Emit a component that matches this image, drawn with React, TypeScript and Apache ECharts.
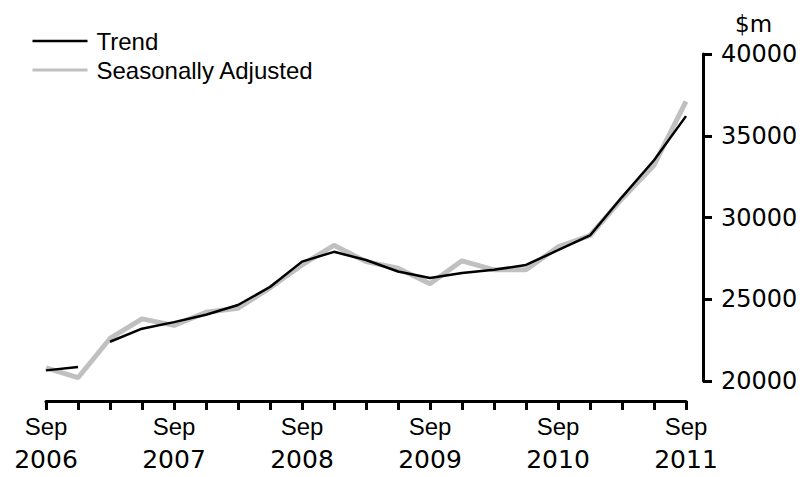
import React, { useEffect, useRef } from "react";
import * as echarts from "echarts";

const quarters = [
  "Sep 2006", "Dec 2006", "Mar 2007", "Jun 2007", "Sep 2007", "Dec 2007", "Mar 2008",
  "Jun 2008", "Sep 2008", "Dec 2008", "Mar 2009", "Jun 2009", "Sep 2009", "Dec 2009",
  "Mar 2010", "Jun 2010", "Sep 2010", "Dec 2010", "Mar 2011", "Jun 2011", "Sep 2011",
];

// Trend series is broken after Dec 2006 (trend break)
const trendPart1 = [20650, 20850, null, null, null, null, null, null, null, null, null, null, null, null, null, null, null, null, null, null, null];
const trendPart2 = [null, null, 22400, 23200, 23600, 24050, 24650, 25750, 27300, 27900, 27400, 26700, 26300, 26600, 26800, 27100, 28000, 28900, 31250, 33500, 36200];
const seasonallyAdjusted = [20800, 20200, 22600, 23800, 23400, 24200, 24450, 25700, 27100, 28300, 27300, 26900, 25950, 27350, 26800, 26800, 28200, 28900, 31150, 33200, 37100];

const yTicks = { min: 20000, max: 40000, interval: 5000 };
const unitLabel = "$m";

export default function App() {
  const ref = useRef<HTMLDivElement>(null);
  useEffect(() => {
    if (!ref.current) return;
    const chart = echarts.init(ref.current, null, { renderer: "svg" });
    chart.setOption({
      animation: false,
      backgroundColor: "#ffffff",
      grid: { left: 46, right: 123, top: 54, bottom: 96, containLabel: false },
      legend: {
        orient: "vertical",
        left: 31,
        top: 29,
        padding: 0,
        itemWidth: 55,
        itemHeight: 14,
        itemGap: 5,
        itemStyle: { opacity: 0, color: "rgba(0,0,0,0)", borderWidth: 0 },
        data: [
          { name: "Trend", lineStyle: { width: 2.5, color: "#000" } },
          { name: "Seasonally Adjusted", lineStyle: { width: 3, color: "#c0c0c0" } },
        ],
        textStyle: { fontFamily: "Liberation Sans", fontSize: 24, color: "#000", lineHeight: 24, padding: [0, 0, 0, 4] },
      },
      graphic: [
        {
          type: "text",
          left: 735,
          top: 12,
          style: { text: unitLabel, fontFamily: "DejaVu Sans", fontSize: 23, fill: "#000" },
        },
      ],
      xAxis: {
        type: "category",
        data: quarters,
        boundaryGap: false,
        offset: 20,
        axisLine: { lineStyle: { color: "#000", width: 3 } },
        axisTick: { interval: 0, length: 9, lineStyle: { color: "#000", width: 3 } },
        axisLabel: {
          interval: 3,
          margin: 9,
          color: "#000",
          formatter: (v: string) => {
            const [m, y] = v.split(" ");
            return `{m|${m}}\n{y|${y}}`;
          },
          rich: {
            m: { fontFamily: "Liberation Sans", fontSize: 24, lineHeight: 33, color: "#000" },
            y: { fontFamily: "DejaVu Sans", fontSize: 25, lineHeight: 33, color: "#000" },
          },
        },
        splitLine: { show: false },
      },
      yAxis: {
        type: "value",
        position: "right",
        offset: 17,
        min: yTicks.min,
        max: yTicks.max,
        interval: yTicks.interval,
        axisLine: { show: true, lineStyle: { color: "#000", width: 3 } },
        axisTick: { show: true, length: 9, lineStyle: { color: "#000", width: 3 } },
        axisLabel: {
          margin: 18,
          color: "#000",
          fontFamily: "DejaVu Sans",
          fontSize: 24,
          formatter: (v: number) => String(v),
        },
        splitLine: { show: false },
      },
      series: [
        {
          name: "Seasonally Adjusted",
          type: "line",
          data: seasonallyAdjusted,
          symbol: "none",
          lineStyle: { color: "#c0c0c0", width: 5 },
          itemStyle: { color: "#c0c0c0" },
        },
        {
          name: "Trend",
          type: "line",
          data: trendPart1,
          symbol: "none",
          connectNulls: false,
          lineStyle: { color: "#000", width: 2.5 },
          itemStyle: { color: "#000" },
        },
        {
          name: "Trend",
          type: "line",
          data: trendPart2,
          symbol: "none",
          connectNulls: false,
          lineStyle: { color: "#000", width: 2.5 },
          itemStyle: { color: "#000" },
        },
      ],
    });
    return () => chart.dispose();
  }, []);
  return <div ref={ref} style={{ position: "fixed", left: 0, top: 0, width: 809, height: 477 }} />;
}
